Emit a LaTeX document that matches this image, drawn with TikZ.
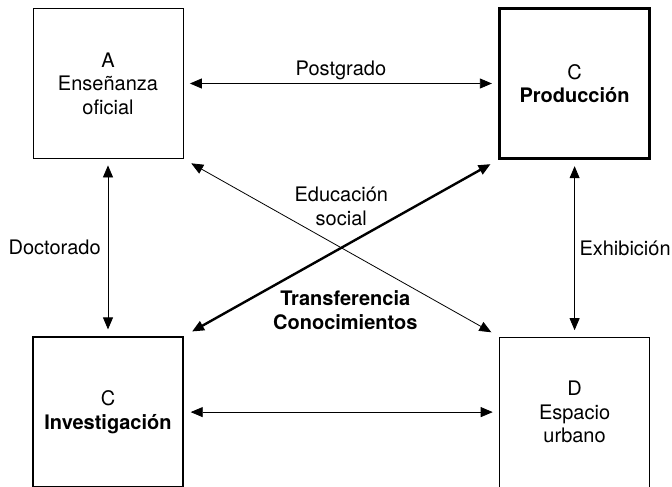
\documentclass[tikz,border=0pt]{standalone}
\usepackage{fontspec}
\setmainfont{TeX Gyre Heros}
\usepackage{tikz}
\usetikzlibrary{positioning,arrows.meta}

\begin{document}
\begin{tikzpicture}[
    font=\fontsize{20bp}{23.5bp}\selectfont,
    >={Triangle[length=12bp,width=10bp]},
    block/.style={draw, rectangle, align=center, minimum width=150bp, minimum height=150bp, line width=0.8bp},
    thickblock/.style={block, line width=2.4bp},
    link/.style={<->, line width=0.8bp, shorten >=6.5bp, shorten <=6.5bp},
    edgelabel/.style={align=center, inner sep=1bp}
]

\useasboundingbox (0,0) rectangle (672bp,-487bp);

% Enseñanza oficial
\node[block] (ensenanza) at (108bp,-83.5bp) {A\\Enseñanza\\oficial};

% Producción
\node[thickblock, right=315bp of ensenanza] (produccion) {C\\\textbf{Producción}};

% Investigación
\node[thickblock, below=177bp of ensenanza] (investigacion) {C\\\textbf{Investigación}};

% Espacio urbano
\node[block, right=315bp of investigacion] (espacio) {D\\Espacio\\urbano};

% flechas horizontales y verticales
\draw[link] (ensenanza) -- node[edgelabel, above=2bp] (postgrado) {Postgrado} (produccion);
\draw[link] (ensenanza) -- node[edgelabel, left=6bp] (doctorado) {Doctorado} (investigacion);
\draw[link] (produccion) -- node[edgelabel, right=3.5bp] (exhibicion) {Exhibición} (espacio);
\draw[link] (investigacion) -- (espacio);

% diagonales
\draw[link, shorten >=9bp, shorten <=9bp] (ensenanza.south east) -- node[edgelabel, above=21bp] (educacion) {Educación\\social} (espacio.north west);
\draw[link, line width=2.4bp, shorten >=9bp, shorten <=9bp] (produccion.south west) -- node[edgelabel, below=41bp, xshift=4bp, font=\fontsize{20bp}{23.5bp}\selectfont\bfseries] (transferencia) {Transferencia\\Conocimientos} (investigacion.north east);

\end{tikzpicture}
\end{document}
